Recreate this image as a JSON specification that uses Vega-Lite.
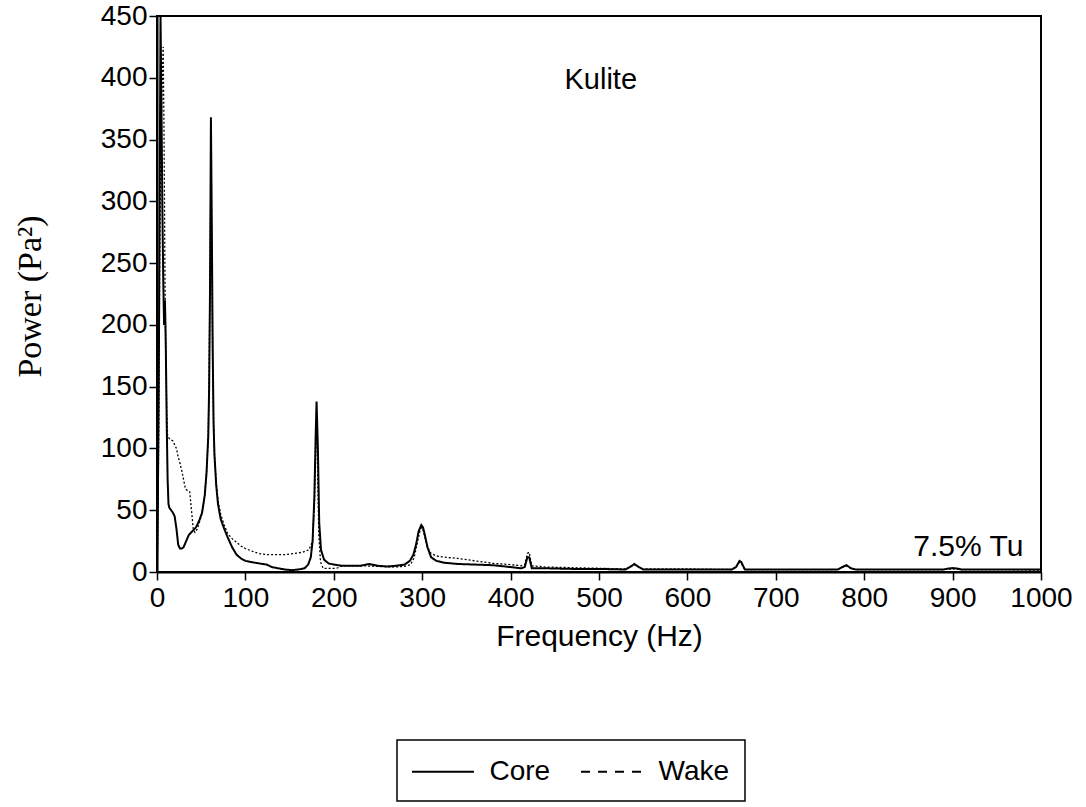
{
  "$schema": "https://vega.github.io/schema/vega-lite/v6.json",
  "width": 884,
  "height": 556,
  "autosize": "none",
  "padding": {"left": 157, "top": 16, "right": 45, "bottom": 235},
  "background": "white",
  "config": {
    "view": {"stroke": "black", "strokeWidth": 2},
    "font": "Liberation Sans"
  },
  "resolve": {"scale": {"strokeDash": "independent"}},
  "layer": [
    {
      "data": {"values": [
        {"s":"Core","f":0,"p":0},{"s":"Core","f":1,"p":60},{"s":"Core","f":2,"p":150},{"s":"Core","f":3,"p":300},{"s":"Core","f":4,"p":450},{"s":"Core","f":5,"p":380},{"s":"Core","f":6,"p":300},{"s":"Core","f":7,"p":240},{"s":"Core","f":8,"p":200},{"s":"Core","f":9,"p":220},{"s":"Core","f":10,"p":180},{"s":"Core","f":11,"p":120},{"s":"Core","f":12,"p":75},{"s":"Core","f":13,"p":55},{"s":"Core","f":14,"p":52},{"s":"Core","f":16,"p":50},{"s":"Core","f":18,"p":48},{"s":"Core","f":20,"p":45},{"s":"Core","f":22,"p":35},{"s":"Core","f":24,"p":22},{"s":"Core","f":26,"p":19},{"s":"Core","f":28,"p":19},{"s":"Core","f":30,"p":20},{"s":"Core","f":33,"p":25},{"s":"Core","f":36,"p":30},{"s":"Core","f":40,"p":33},{"s":"Core","f":44,"p":36},{"s":"Core","f":48,"p":42},{"s":"Core","f":51,"p":48},{"s":"Core","f":54,"p":62},{"s":"Core","f":56,"p":80},{"s":"Core","f":58,"p":110},{"s":"Core","f":59,"p":150},{"s":"Core","f":60,"p":230},{"s":"Core","f":61,"p":368},{"s":"Core","f":62,"p":280},{"s":"Core","f":63,"p":180},{"s":"Core","f":64,"p":120},{"s":"Core","f":65,"p":95},{"s":"Core","f":67,"p":70},{"s":"Core","f":69,"p":55},{"s":"Core","f":72,"p":43},{"s":"Core","f":76,"p":35},{"s":"Core","f":80,"p":28},{"s":"Core","f":85,"p":20},{"s":"Core","f":90,"p":14},{"s":"Core","f":95,"p":11},{"s":"Core","f":100,"p":9},{"s":"Core","f":107,"p":8},{"s":"Core","f":115,"p":7},{"s":"Core","f":124,"p":6},{"s":"Core","f":130,"p":4},{"s":"Core","f":137,"p":3},{"s":"Core","f":145,"p":2},{"s":"Core","f":152,"p":1.5},{"s":"Core","f":160,"p":2},{"s":"Core","f":167,"p":3},{"s":"Core","f":171,"p":6},{"s":"Core","f":174,"p":12},{"s":"Core","f":176,"p":25},{"s":"Core","f":178,"p":60},{"s":"Core","f":179.5,"p":110},{"s":"Core","f":180.5,"p":138},{"s":"Core","f":182,"p":100},{"s":"Core","f":183.5,"p":40},{"s":"Core","f":185.5,"p":18},{"s":"Core","f":189,"p":10},{"s":"Core","f":194,"p":7},{"s":"Core","f":200,"p":6},{"s":"Core","f":210,"p":5},{"s":"Core","f":220,"p":5},{"s":"Core","f":230,"p":5},{"s":"Core","f":240,"p":6.5},{"s":"Core","f":250,"p":5},{"s":"Core","f":260,"p":4.5},{"s":"Core","f":270,"p":5},{"s":"Core","f":280,"p":6},{"s":"Core","f":286,"p":9},{"s":"Core","f":290,"p":14},{"s":"Core","f":293,"p":22},{"s":"Core","f":296,"p":33},{"s":"Core","f":299,"p":38},{"s":"Core","f":301,"p":36},{"s":"Core","f":303,"p":30},{"s":"Core","f":306,"p":20},{"s":"Core","f":310,"p":12},{"s":"Core","f":316,"p":9},{"s":"Core","f":325,"p":7.5},{"s":"Core","f":340,"p":6.5},{"s":"Core","f":360,"p":6},{"s":"Core","f":380,"p":5.5},{"s":"Core","f":400,"p":4},{"s":"Core","f":412,"p":3},{"s":"Core","f":416,"p":4},{"s":"Core","f":419,"p":12},{"s":"Core","f":421,"p":12},{"s":"Core","f":424,"p":3},{"s":"Core","f":440,"p":3},{"s":"Core","f":470,"p":2.5},{"s":"Core","f":500,"p":2.5},{"s":"Core","f":530,"p":2},{"s":"Core","f":535,"p":4},{"s":"Core","f":540,"p":6.5},{"s":"Core","f":545,"p":4},{"s":"Core","f":550,"p":2},{"s":"Core","f":600,"p":2},{"s":"Core","f":650,"p":2},{"s":"Core","f":655,"p":4},{"s":"Core","f":659,"p":9},{"s":"Core","f":661,"p":8},{"s":"Core","f":665,"p":2},{"s":"Core","f":700,"p":2},{"s":"Core","f":770,"p":2},{"s":"Core","f":775,"p":4},{"s":"Core","f":780,"p":5.5},{"s":"Core","f":785,"p":3},{"s":"Core","f":790,"p":2},{"s":"Core","f":850,"p":2},{"s":"Core","f":890,"p":2},{"s":"Core","f":895,"p":2.8},{"s":"Core","f":900,"p":3.2},{"s":"Core","f":905,"p":2.8},{"s":"Core","f":910,"p":2},{"s":"Core","f":950,"p":2},{"s":"Core","f":1000,"p":2},
        {"s":"Wake","f":0,"p":0},{"s":"Wake","f":1,"p":40},{"s":"Wake","f":2,"p":120},{"s":"Wake","f":3,"p":250},{"s":"Wake","f":4,"p":330},{"s":"Wake","f":5,"p":370},{"s":"Wake","f":6,"p":400},{"s":"Wake","f":7,"p":425},{"s":"Wake","f":8,"p":350},{"s":"Wake","f":9,"p":240},{"s":"Wake","f":10,"p":180},{"s":"Wake","f":11,"p":130},{"s":"Wake","f":12,"p":110},{"s":"Wake","f":14,"p":108},{"s":"Wake","f":16,"p":107},{"s":"Wake","f":18,"p":106},{"s":"Wake","f":20,"p":103},{"s":"Wake","f":22,"p":100},{"s":"Wake","f":24,"p":93},{"s":"Wake","f":26,"p":88},{"s":"Wake","f":28,"p":82},{"s":"Wake","f":30,"p":75},{"s":"Wake","f":32,"p":68},{"s":"Wake","f":34,"p":66},{"s":"Wake","f":37,"p":65},{"s":"Wake","f":39,"p":50},{"s":"Wake","f":41,"p":35},{"s":"Wake","f":43,"p":32},{"s":"Wake","f":45,"p":34},{"s":"Wake","f":48,"p":40},{"s":"Wake","f":51,"p":48},{"s":"Wake","f":54,"p":62},{"s":"Wake","f":56,"p":80},{"s":"Wake","f":58,"p":110},{"s":"Wake","f":59,"p":160},{"s":"Wake","f":60,"p":250},{"s":"Wake","f":61,"p":320},{"s":"Wake","f":62,"p":260},{"s":"Wake","f":63,"p":170},{"s":"Wake","f":64,"p":120},{"s":"Wake","f":65,"p":95},{"s":"Wake","f":67,"p":72},{"s":"Wake","f":69,"p":58},{"s":"Wake","f":72,"p":47},{"s":"Wake","f":76,"p":38},{"s":"Wake","f":80,"p":31},{"s":"Wake","f":85,"p":27},{"s":"Wake","f":90,"p":24},{"s":"Wake","f":95,"p":21},{"s":"Wake","f":100,"p":19},{"s":"Wake","f":107,"p":17},{"s":"Wake","f":115,"p":15},{"s":"Wake","f":124,"p":14},{"s":"Wake","f":135,"p":14},{"s":"Wake","f":145,"p":14},{"s":"Wake","f":155,"p":15},{"s":"Wake","f":165,"p":16},{"s":"Wake","f":172,"p":18},{"s":"Wake","f":176,"p":25},{"s":"Wake","f":178,"p":55},{"s":"Wake","f":179.5,"p":100},{"s":"Wake","f":180.5,"p":120},{"s":"Wake","f":181.5,"p":90},{"s":"Wake","f":183,"p":30},{"s":"Wake","f":185,"p":8},{"s":"Wake","f":188,"p":3},{"s":"Wake","f":195,"p":3},{"s":"Wake","f":203,"p":3},{"s":"Wake","f":210,"p":5},{"s":"Wake","f":220,"p":5},{"s":"Wake","f":235,"p":5},{"s":"Wake","f":250,"p":4.5},{"s":"Wake","f":265,"p":4},{"s":"Wake","f":280,"p":4.5},{"s":"Wake","f":287,"p":6},{"s":"Wake","f":291,"p":12},{"s":"Wake","f":294,"p":22},{"s":"Wake","f":297,"p":32},{"s":"Wake","f":299,"p":36},{"s":"Wake","f":301,"p":34},{"s":"Wake","f":303,"p":28},{"s":"Wake","f":306,"p":20},{"s":"Wake","f":310,"p":15},{"s":"Wake","f":316,"p":13},{"s":"Wake","f":325,"p":12},{"s":"Wake","f":340,"p":11},{"s":"Wake","f":360,"p":9},{"s":"Wake","f":380,"p":7},{"s":"Wake","f":400,"p":6},{"s":"Wake","f":412,"p":5},{"s":"Wake","f":416,"p":6},{"s":"Wake","f":419,"p":15},{"s":"Wake","f":421,"p":16},{"s":"Wake","f":424,"p":5},{"s":"Wake","f":440,"p":4},{"s":"Wake","f":470,"p":3.5},{"s":"Wake","f":500,"p":3},{"s":"Wake","f":530,"p":2.5},{"s":"Wake","f":535,"p":4},{"s":"Wake","f":540,"p":6},{"s":"Wake","f":545,"p":4},{"s":"Wake","f":550,"p":2.5},{"s":"Wake","f":600,"p":2.5},{"s":"Wake","f":650,"p":2},{"s":"Wake","f":655,"p":4},{"s":"Wake","f":659,"p":8},{"s":"Wake","f":661,"p":7},{"s":"Wake","f":665,"p":2},{"s":"Wake","f":700,"p":2},{"s":"Wake","f":770,"p":2},{"s":"Wake","f":775,"p":3.5},{"s":"Wake","f":780,"p":5},{"s":"Wake","f":785,"p":3},{"s":"Wake","f":790,"p":2},{"s":"Wake","f":850,"p":2},{"s":"Wake","f":890,"p":2},{"s":"Wake","f":900,"p":2.5},{"s":"Wake","f":910,"p":2},{"s":"Wake","f":950,"p":2},{"s":"Wake","f":1000,"p":1.5}
      ]},
      "mark": {"type": "line", "clip": true, "color": "black"},
      "encoding": {
        "x": {
          "field": "f", "type": "quantitative",
          "scale": {"domain": [0, 1000], "nice": false, "zero": false},
          "axis": {
            "title": "Frequency (Hz)", "values": [0,100,200,300,400,500,600,700,800,900,1000], "format": "d",
            "grid": false, "domainColor": "black", "domainWidth": 2,
            "tickColor": "black", "tickSize": 8, "tickWidth": 1.5,
            "labelFont": "Liberation Sans", "labelFontSize": 28, "labelColor": "black", "labelPadding": 4,
            "labelFlush": false, "labelOverlap": false,
            "titleFont": "Liberation Sans", "titleFontSize": 30, "titleFontWeight": "normal", "titleColor": "black",
            "titleBaseline": "top", "titleY": 49
          }
        },
        "y": {
          "field": "p", "type": "quantitative",
          "scale": {"domain": [0, 450], "nice": false},
          "axis": {
            "title": "Power (Pa²)", "values": [0,50,100,150,200,250,300,350,400,450],
            "grid": false, "domainColor": "black", "domainWidth": 2,
            "tickColor": "black", "tickSize": 8, "tickWidth": 1.5,
            "labelFont": "Liberation Sans", "labelFontSize": 28, "labelColor": "black", "labelPadding": 2,
            "labelFlush": false, "labelOverlap": false,
            "titleFont": "Liberation Serif", "titleFontSize": 34, "titleFontWeight": "normal", "titleColor": "black",
            "titleAngle": -90, "titleBaseline": "bottom", "titleAlign": "center", "titleX": -110, "titleY": 280
          }
        },
        "strokeDash": {
          "field": "s", "type": "nominal",
          "scale": {"domain": ["Core", "Wake"], "range": [[1, 0], [2, 2]]},
          "legend": null
        },
        "strokeWidth": {
          "field": "s", "type": "nominal",
          "scale": {"domain": ["Core", "Wake"], "range": [2, 1.3]},
          "legend": null
        }
      }
    },
    {
      "data": {"values": [{"s": "Core", "f": 0, "p": 0}, {"s": "Wake", "f": 0, "p": 0}]},
      "transform": [{"filter": "datum.f < 0"}],
      "mark": {"type": "line", "color": "black"},
      "encoding": {
        "x": {"field": "f", "type": "quantitative"},
        "y": {"field": "p", "type": "quantitative"},
        "strokeDash": {
          "field": "s", "type": "nominal",
          "scale": {"domain": ["Core", "Wake"], "range": [[1, 0], [9, 8]]},
          "legend": {
            "orient": "none", "legendX": 240, "legendY": 724, "direction": "horizontal", "title": null,
            "symbolType": "M-2,0H2", "symbolSize": 961, "symbolStrokeWidth": 2, "symbolStrokeColor": "black",
            "symbolOffset": 14.5,
            "labelFont": "Liberation Sans", "labelFontSize": 28, "labelColor": "black", "labelOffset": 30,
            "labelExpr": "datum.label == 'Wake' ? 'Wake\u00a0\u00a0\u00a0' : datum.label",
            "columnPadding": 26, "padding": 15, "strokeColor": "black", "fillColor": "white",
            "encode": {"legend": {"update": {"strokeWidth": {"value": 1.5}}}}
          }
        }
      }
    },
    {
      "data": {"values": [{"f": 502, "p": 398, "t": "Kulite"}]},
      "mark": {"type": "text", "font": "Liberation Sans", "fontSize": 29, "color": "black", "baseline": "middle", "align": "center"},
      "encoding": {
        "x": {"field": "f", "type": "quantitative"},
        "y": {"field": "p", "type": "quantitative"},
        "text": {"field": "t"}
      }
    },
    {
      "data": {"values": [{"f": 980, "p": 13, "t": "7.5% Tu"}]},
      "mark": {"type": "text", "font": "Liberation Sans", "fontSize": 30, "color": "black", "baseline": "alphabetic", "align": "right"},
      "encoding": {
        "x": {"field": "f", "type": "quantitative"},
        "y": {"field": "p", "type": "quantitative"},
        "text": {"field": "t"}
      }
    }
  ]
}
